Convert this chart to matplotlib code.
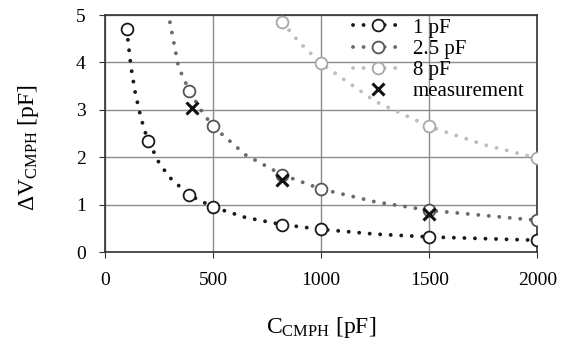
import numpy as np
import matplotlib
matplotlib.use("Agg")
import matplotlib.pyplot as plt

plt.rcParams['font.family'] = ['Liberation Serif', 'DejaVu Serif']
plt.rcParams['mathtext.fontset'] = 'custom'
plt.rcParams['mathtext.rm'] = 'Liberation Serif'
plt.rcParams['mathtext.it'] = 'Liberation Serif:italic'

# marker points
c_1pf = [100, 200, 390, 500, 820, 1000, 1500, 2000]
v_1pf = [4.7, 2.35, 1.2, 0.95, 0.58, 0.48, 0.32, 0.25]
c_25pf = [390, 500, 820, 1000, 1500, 2000]
v_25pf = [3.4, 2.65, 1.63, 1.33, 0.88, 0.67]
c_8pf = [820, 1000, 1500, 2000]
v_8pf = [4.85, 3.98, 2.65, 1.98]

# dotted trend curves
curve_c_1pf = [100, 120, 140, 160, 180, 200, 250, 300, 390, 500, 650, 820, 1000, 1250, 1500, 2000]
curve_v_1pf = [4.7, 3.9, 3.35, 2.95, 2.6, 2.35, 1.88, 1.57, 1.2, 0.95, 0.73, 0.58, 0.48, 0.38, 0.32, 0.25]
curve_c_25pf = [300, 340, 390, 450, 500, 650, 820, 1000, 1250, 1500, 2000]
curve_v_25pf = [4.85, 3.9, 3.4, 2.95, 2.65, 2.05, 1.63, 1.33, 1.06, 0.88, 0.67]
curve_c_8pf = [820, 900, 1000, 1250, 1500, 1750, 2000]
curve_v_8pf = [4.85, 4.42, 3.98, 3.18, 2.65, 2.27, 1.98]

meas_c = [400, 820, 1500]
meas_v = [3.05, 1.52, 0.8]

series = [
    ('1 pF', c_1pf, v_1pf, curve_c_1pf, curve_v_1pf, '#1a1a1a', '#1a1a1a'),
    ('2.5 pF', c_25pf, v_25pf, curve_c_25pf, curve_v_25pf, '#6a6a6a', '#555555'),
    ('8 pF', c_8pf, v_8pf, curve_c_8pf, curve_v_8pf, '#bdbdbd', '#a8a8a8'),
]

fig = plt.figure(figsize=(5.68, 3.43), dpi=100)
ax = fig.add_axes([0.185, 0.265, 0.761, 0.691])

dots = (0, (0.01, 2.7))
for label, cx, vy, ccx, cvy, lc, mc in series:
    ax.plot(ccx, cvy, linestyle=dots, dash_capstyle='round', color=lc, lw=2.8, zorder=3)
    ax.plot(cx, vy, 'o', mfc='white', mec=mc, ms=8.5, mew=1.3, zorder=4)
    # legend proxy
    ax.plot([], [], linestyle=dots, dash_capstyle='round', color=lc, lw=2.8,
            marker='o', mfc='white', mec=mc, ms=8.5, mew=1.3, label=label)

ax.plot(meas_c, meas_v, 'x', color='#111111', ms=9, mew=2.2, zorder=5, label='measurement')

ax.set_xlim(0, 2000)
ax.set_ylim(0, 5)
ax.set_xticks([0, 500, 1000, 1500, 2000])
ax.set_yticks([0, 1, 2, 3, 4, 5])
ax.grid(True, color='#8a8a8a', lw=1.0)
ax.set_axisbelow(True)
for s in ax.spines.values():
    s.set_color('#333333')
    s.set_linewidth(1.2)
ax.tick_params(labelsize=14, length=4, color='#333333')
ax.tick_params(axis='x', pad=10)
ax.tick_params(axis='y', pad=10)

ax.set_xlabel(r'C$_{\mathrm{CMPH}}$ [pF]', fontsize=17)
ax.set_ylabel(r'$\Delta$V$_{\mathrm{CMPH}}$ [pF]', fontsize=17)
ax.xaxis.set_label_coords(0.5, -0.265)
ax.yaxis.set_label_coords(-0.148, 0.44)

ax.legend(loc='upper right', bbox_to_anchor=(1.0, 1.04), frameon=False, fontsize=15,
          handlelength=2.4, handletextpad=0.5, labelspacing=0.08, borderaxespad=0.2)

fig.savefig('out.png', dpi=100)
